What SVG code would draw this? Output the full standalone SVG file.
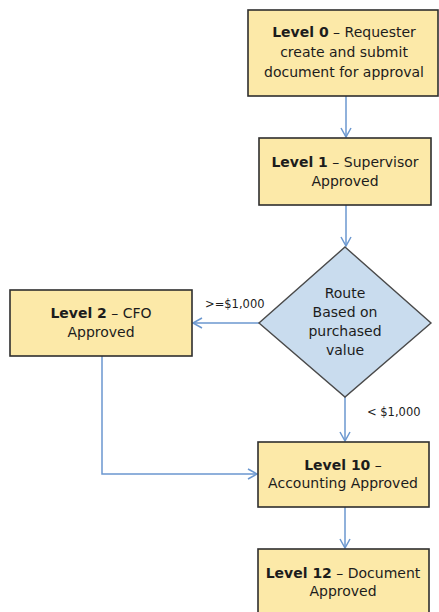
<svg xmlns="http://www.w3.org/2000/svg" width="439" height="612" viewBox="0 0 439 612">
  <defs>
    <marker id="arrow" markerWidth="12" markerHeight="12" refX="10" refY="6" orient="auto" markerUnits="userSpaceOnUse">
      <path d="M1,1 L10,6 L1,11" fill="none" stroke="#6b97cf" stroke-width="1.5"/>
    </marker>
  </defs>
  <style>
    .box { fill: #fce9a8; stroke: #2e2e2e; stroke-width: 1.6; }
    .dia { fill: #c9dcee; stroke: #4a4a4a; stroke-width: 1.4; }
    .lbl { font-family: "DejaVu Sans", Verdana, sans-serif; font-size: 14px; fill: #1c1c1c; text-anchor: middle; }
    .b { font-weight: bold; }
    .edge { fill: none; stroke: #6b97cf; stroke-width: 1.5; marker-end: url(#arrow); }
    .cond { font-family: "DejaVu Sans", Verdana, sans-serif; font-size: 11.5px; fill: #1c1c1c; }
  </style>
  <rect width="439" height="612" fill="#ffffff"/>

  <g id="connectors">
    <path class="edge" d="M346,96 V137"/>
    <path class="edge" d="M346,205 V246"/>
    <path class="edge" d="M259,323 H193"/>
    <path class="edge" d="M345,397 V441"/>
    <path class="edge" d="M102,356 V474 H257"/>
    <path class="edge" d="M345,507 V548"/>
    <text class="cond" x="205" y="308">&gt;=$1,000</text>
    <text class="cond" x="367" y="416">&lt; $1,000</text>
  </g>

  <g id="level0">
    <rect class="box" x="248" y="10" width="190" height="86"/>
    <text class="lbl" x="344" y="37"><tspan class="b">Level 0</tspan> – Requester</text>
    <text class="lbl" x="344" y="57">create and submit</text>
    <text class="lbl" x="344" y="77">document for approval</text>
  </g>

  <g id="level1">
    <rect class="box" x="259" y="138" width="172" height="67"/>
    <text class="lbl" x="345" y="167"><tspan class="b">Level 1</tspan> – Supervisor</text>
    <text class="lbl" x="345" y="186">Approved</text>
  </g>

  <g id="route">
    <polygon class="dia" points="345,247 431,323 345,397 259,323"/>
    <text class="lbl" x="345" y="298">Route</text>
    <text class="lbl" x="345" y="317">Based on</text>
    <text class="lbl" x="345" y="336">purchased</text>
    <text class="lbl" x="345" y="355">value</text>
  </g>

  <g id="level2">
    <rect class="box" x="10" y="290" width="182" height="66"/>
    <text class="lbl" x="101" y="318"><tspan class="b">Level 2</tspan> – CFO</text>
    <text class="lbl" x="101" y="337">Approved</text>
  </g>

  <g id="level10">
    <rect class="box" x="258" y="442" width="171" height="65"/>
    <text class="lbl" x="343" y="470"><tspan class="b">Level 10</tspan> –</text>
    <text class="lbl" x="343" y="488">Accounting Approved</text>
  </g>

  <g id="level12">
    <rect class="box" x="258" y="549" width="171" height="66"/>
    <text class="lbl" x="343" y="578"><tspan class="b">Level 12</tspan> – Document</text>
    <text class="lbl" x="343" y="596">Approved</text>
  </g>
</svg>
